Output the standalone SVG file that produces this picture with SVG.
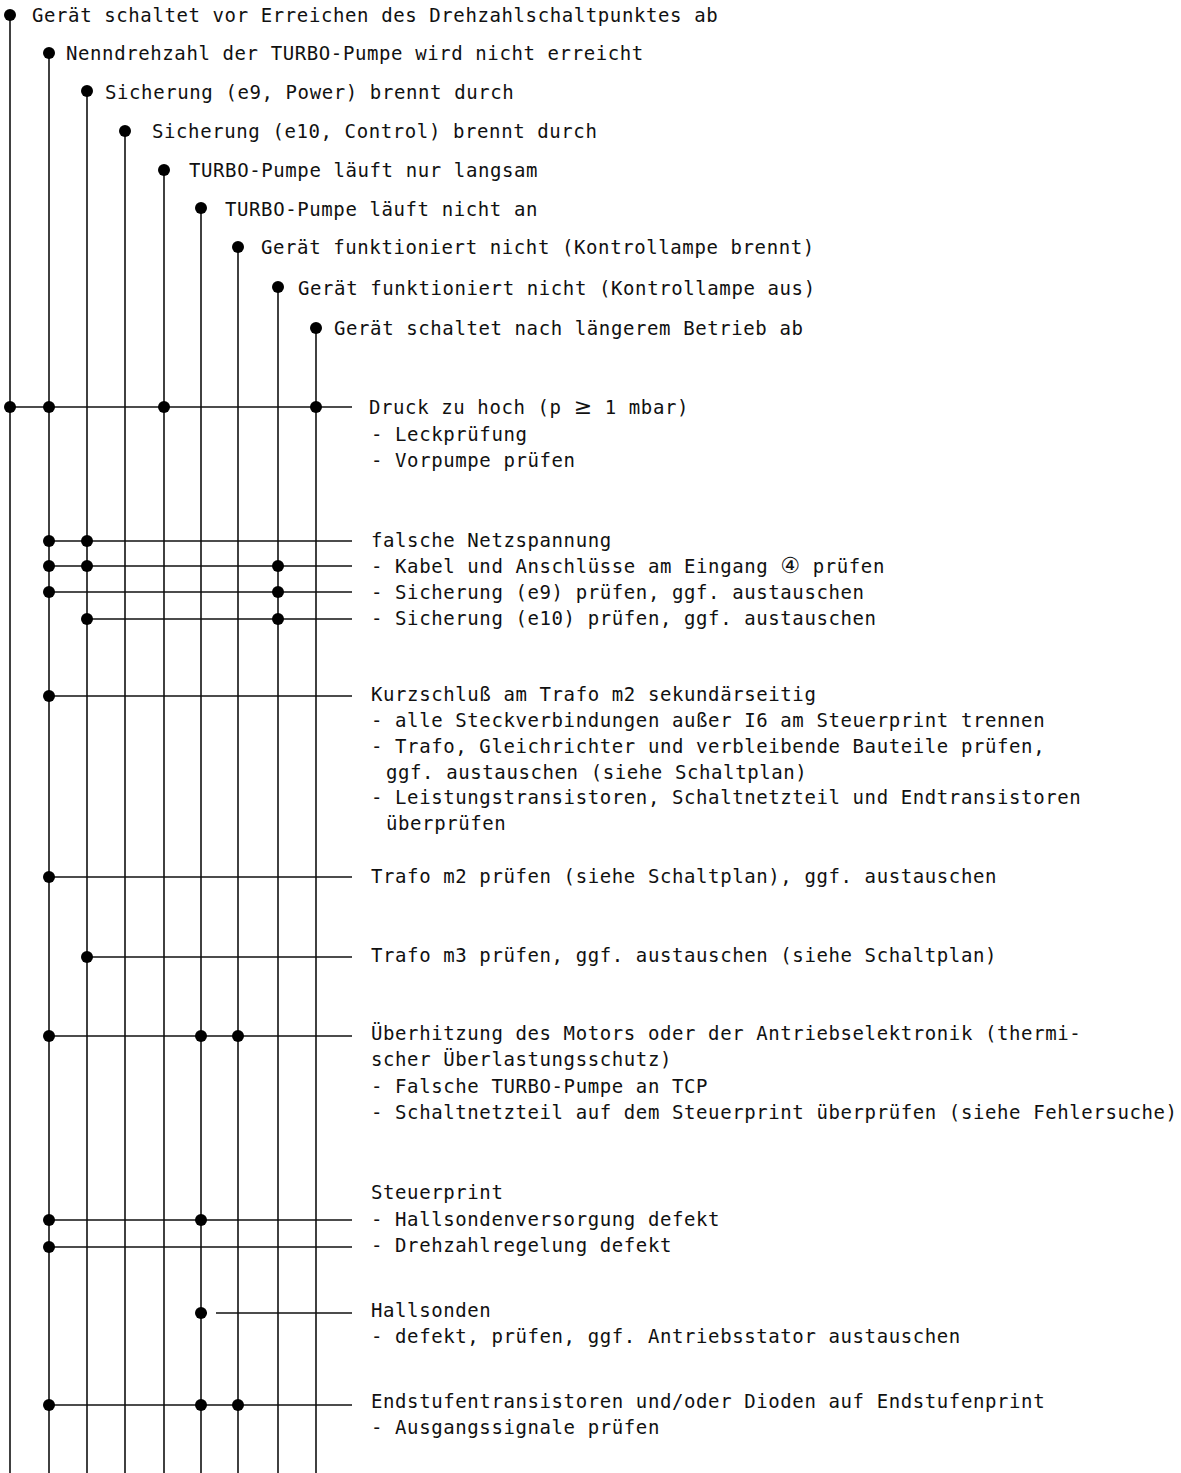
<svg xmlns="http://www.w3.org/2000/svg" width="1181" height="1473" viewBox="0 0 1181 1473">
<style>
text{font-family:"DejaVu Sans Mono","Liberation Mono",monospace;font-size:19px;fill:#111;letter-spacing:0.6px}
.big{font-family:"DejaVu Sans","Noto Sans",sans-serif;font-size:22px}
.v,.h{stroke:#111;stroke-width:1.6;fill:none}
.d{fill:#000}
</style>
<defs><circle id="dot" r="6" class="d"/></defs>
<rect width="1181" height="1473" fill="#fff"/>
<g id="connectors">
<g id="verticals">
<line class="v" x1="10" y1="15" x2="10" y2="1473"/>
<line class="v" x1="49" y1="53" x2="49" y2="1473"/>
<line class="v" x1="87" y1="91" x2="87" y2="1473"/>
<line class="v" x1="125" y1="131" x2="125" y2="1473"/>
<line class="v" x1="164" y1="170" x2="164" y2="1473"/>
<line class="v" x1="201" y1="208" x2="201" y2="1473"/>
<line class="v" x1="238" y1="247" x2="238" y2="1473"/>
<line class="v" x1="278" y1="287" x2="278" y2="1473"/>
<line class="v" x1="316" y1="328" x2="316" y2="1473"/>
</g>
<g id="horizontals">
<line class="h" x1="10" y1="407" x2="352" y2="407"/>
<line class="h" x1="49" y1="541" x2="352" y2="541"/>
<line class="h" x1="49" y1="566" x2="352" y2="566"/>
<line class="h" x1="49" y1="592" x2="352" y2="592"/>
<line class="h" x1="87" y1="619" x2="352" y2="619"/>
<line class="h" x1="49" y1="696" x2="352" y2="696"/>
<line class="h" x1="49" y1="877" x2="352" y2="877"/>
<line class="h" x1="87" y1="957" x2="352" y2="957"/>
<line class="h" x1="49" y1="1036" x2="352" y2="1036"/>
<line class="h" x1="49" y1="1220" x2="352" y2="1220"/>
<line class="h" x1="49" y1="1247" x2="352" y2="1247"/>
<line class="h" x1="216" y1="1313" x2="352" y2="1313"/>
<line class="h" x1="201" y1="1313" x2="207" y2="1313"/>
<line class="h" x1="49" y1="1405" x2="352" y2="1405"/>
</g>
<g id="junctions">
<use href="#dot" x="10" y="407"/><use href="#dot" x="49" y="407"/><use href="#dot" x="164" y="407"/><use href="#dot" x="316" y="407"/>
<use href="#dot" x="49" y="541"/><use href="#dot" x="87" y="541"/>
<use href="#dot" x="49" y="566"/><use href="#dot" x="87" y="566"/><use href="#dot" x="278" y="566"/>
<use href="#dot" x="49" y="592"/><use href="#dot" x="278" y="592"/>
<use href="#dot" x="87" y="619"/><use href="#dot" x="278" y="619"/>
<use href="#dot" x="49" y="696"/>
<use href="#dot" x="49" y="877"/>
<use href="#dot" x="87" y="957"/>
<use href="#dot" x="49" y="1036"/><use href="#dot" x="201" y="1036"/><use href="#dot" x="238" y="1036"/>
<use href="#dot" x="49" y="1220"/><use href="#dot" x="201" y="1220"/>
<use href="#dot" x="49" y="1247"/>
<use href="#dot" x="201" y="1313"/>
<use href="#dot" x="49" y="1405"/><use href="#dot" x="201" y="1405"/><use href="#dot" x="238" y="1405"/>
</g>
</g>
<g id="s1"><use href="#dot" x="10" y="15"/><text x="32" y="22">Gerät schaltet vor Erreichen des Drehzahlschaltpunktes ab</text></g>
<g id="s2"><use href="#dot" x="49" y="53"/><text x="66" y="60">Nenndrehzahl der TURBO-Pumpe wird nicht erreicht</text></g>
<g id="s3"><use href="#dot" x="87" y="91"/><text x="105" y="99">Sicherung (e9, Power) brennt durch</text></g>
<g id="s4"><use href="#dot" x="125" y="131"/><text x="152" y="138">Sicherung (e10, Control) brennt durch</text></g>
<g id="s5"><use href="#dot" x="164" y="170"/><text x="189" y="177">TURBO-Pumpe läuft nur langsam</text></g>
<g id="s6"><use href="#dot" x="201" y="208"/><text x="225" y="216">TURBO-Pumpe läuft nicht an</text></g>
<g id="s7"><use href="#dot" x="238" y="247"/><text x="261" y="254">Gerät funktioniert nicht (Kontrollampe brennt)</text></g>
<g id="s8"><use href="#dot" x="278" y="287"/><text x="298" y="295">Gerät funktioniert nicht (Kontrollampe aus)</text></g>
<g id="s9"><use href="#dot" x="316" y="328"/><text x="334" y="335">Gerät schaltet nach längerem Betrieb ab</text></g>
<g id="c1"><text x="369" y="414">Druck zu hoch (p <tspan class="big">≥</tspan> 1 mbar)</text><text x="371" y="441">- Leckprüfung</text><text x="371" y="467">- Vorpumpe prüfen</text></g>
<g id="c2"><text x="371" y="547">falsche Netzspannung</text><text x="371" y="573">- Kabel und Anschlüsse am Eingang <tspan class="big">④</tspan> prüfen</text><text x="371" y="599">- Sicherung (e9) prüfen, ggf. austauschen</text><text x="371" y="625">- Sicherung (e10) prüfen, ggf. austauschen</text></g>
<g id="c3"><text x="371" y="701">Kurzschluß am Trafo m2 sekundärseitig</text><text x="371" y="727">- alle Steckverbindungen außer I6 am Steuerprint trennen</text><text x="371" y="753">- Trafo, Gleichrichter und verbleibende Bauteile prüfen,</text><text x="386" y="779">ggf. austauschen (siehe Schaltplan)</text><text x="371" y="804">- Leistungstransistoren, Schaltnetzteil und Endtransistoren</text><text x="386" y="830">überprüfen</text></g>
<g id="c4"><text x="371" y="883">Trafo m2 prüfen (siehe Schaltplan), ggf. austauschen</text></g>
<g id="c5"><text x="371" y="962">Trafo m3 prüfen, ggf. austauschen (siehe Schaltplan)</text></g>
<g id="c6"><text x="371" y="1040">Überhitzung des Motors oder der Antriebselektronik (thermi-</text><text x="371" y="1066">scher Überlastungsschutz)</text><text x="371" y="1093">- Falsche TURBO-Pumpe an TCP</text><text x="371" y="1119">- Schaltnetzteil auf dem Steuerprint überprüfen (siehe Fehlersuche)</text></g>
<g id="c7"><text x="371" y="1199">Steuerprint</text><text x="371" y="1226">- Hallsondenversorgung defekt</text><text x="371" y="1252">- Drehzahlregelung defekt</text></g>
<g id="c8"><text x="371" y="1317">Hallsonden</text><text x="371" y="1343">- defekt, prüfen, ggf. Antriebsstator austauschen</text></g>
<g id="c9"><text x="371" y="1408">Endstufentransistoren und/oder Dioden auf Endstufenprint</text><text x="371" y="1434">- Ausgangssignale prüfen</text></g>
</svg>
